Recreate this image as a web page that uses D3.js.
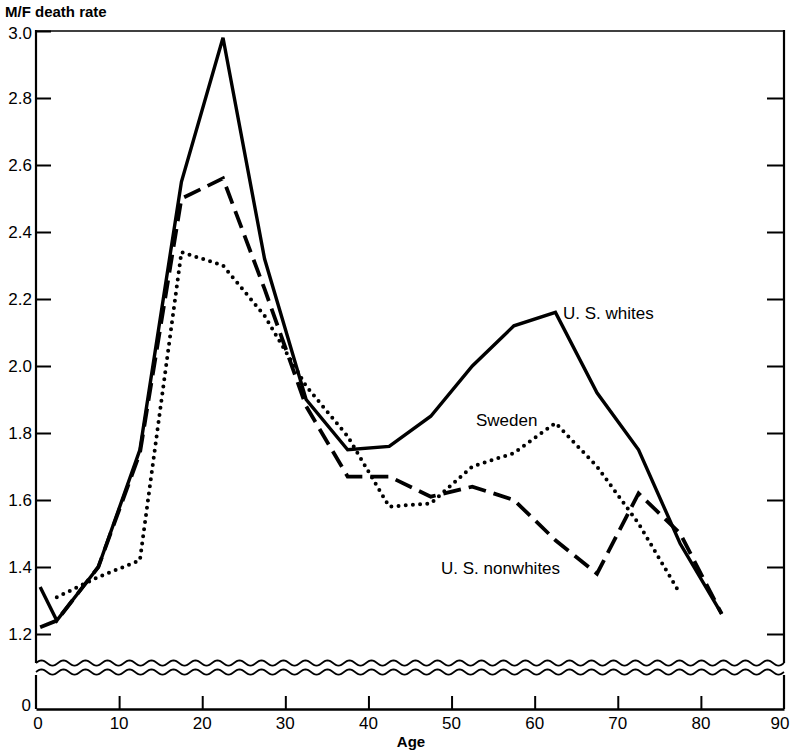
<!DOCTYPE html>
<html>
<head>
<meta charset="utf-8">
<script src="https://cdn.jsdelivr.net/npm/d3@7"></script>
<style>
  body { margin: 0; background: #fff; }
  text { font-family: "Liberation Sans", Arial, sans-serif; fill: #000; }
</style>
</head>
<body>
<div id="chart"></div>
<script>
// age group midpoints and M/F death-rate ratios
var ages = [0.5, 2.5, 7.5, 12.5, 17.5, 22.5, 27.5, 32.5, 37.5, 42.5, 47.5, 52.5, 57.5, 62.5, 67.5, 72.5, 77.5, 82.5];
var usWhites = [1.34, 1.24, 1.40, 1.75, 2.55, 2.98, 2.32, 1.90, 1.75, 1.76, 1.85, 2.00, 2.12, 2.16, 1.92, 1.75, 1.47, 1.26];
var usNonwhites = [1.22, 1.24, 1.40, 1.74, 2.50, 2.56, 2.23, 1.88, 1.67, 1.67, 1.61, 1.64, 1.60, 1.48, 1.38, 1.62, 1.50, 1.26];
var swedenAges = [2.5, 7.5, 12.5, 17.5, 22.5, 27.5, 32.5, 37.5, 42.5, 47.5, 52.5, 57.5, 62.5, 67.5, 72.5, 77.5];
var sweden = [1.31, 1.37, 1.42, 2.34, 2.30, 2.15, 1.94, 1.79, 1.58, 1.59, 1.70, 1.74, 1.83, 1.70, 1.53, 1.32];

var xTicks = [0, 10, 20, 30, 40, 50, 60, 70, 80, 90];
var yTicks = [1.2, 1.4, 1.6, 1.8, 2.0, 2.2, 2.4, 2.6, 2.8, 3.0];

var width = 798, height = 750;
var svg = d3.select("#chart").append("svg")
    .attr("width", width)
    .attr("height", height);

var x = d3.scaleLinear().domain([0, 90]).range([36, 784]);
var y = d3.scaleLinear().domain([1.2, 3.0]).range([634, 31]);
// the broken-off bottom part only shows zero
var yLow = d3.scaleLinear().domain([0, 0.1]).range([709, 676]);

var waveTop = 663, waveBottom = 672;

// frame of the upper part
svg.append("line").attr("x1", x(0)).attr("x2", x(90)).attr("y1", y(3.0)).attr("y2", y(3.0))
    .attr("stroke", "#000").attr("stroke-width", 1.6);
svg.append("line").attr("x1", x(0)).attr("x2", x(0)).attr("y1", y(3.0) - 1).attr("y2", waveTop)
    .attr("stroke", "#000").attr("stroke-width", 2.2);
svg.append("line").attr("x1", x(90)).attr("x2", x(90)).attr("y1", y(3.0) - 1).attr("y2", waveTop)
    .attr("stroke", "#000").attr("stroke-width", 2.2);

// lower part
svg.append("line").attr("x1", x(0)).attr("x2", x(0)).attr("y1", waveBottom + 3).attr("y2", yLow(0))
    .attr("stroke", "#000").attr("stroke-width", 2.2);
svg.append("line").attr("x1", x(90)).attr("x2", x(90)).attr("y1", waveBottom + 3).attr("y2", yLow(0))
    .attr("stroke", "#000").attr("stroke-width", 2.2);

// wavy break lines
var nWaves = 34;
function wavePath(cy) {
    var pts = d3.range(0, nWaves * 16 + 1).map(function(i) {
        var t = i / (nWaves * 16);
        var px = x(0) + t * (x(90) - x(0));
        return [px, cy - 2.6 * Math.sin(t * nWaves * 2 * Math.PI)];
    });
    return d3.line()(pts);
}
svg.append("path").attr("d", wavePath(waveTop)).attr("fill", "none").attr("stroke", "#000").attr("stroke-width", 1.8);
svg.append("path").attr("d", wavePath(waveBottom)).attr("fill", "none").attr("stroke", "#000").attr("stroke-width", 1.8);

// left y axis ticks (inside) and labels
var left = svg.append("g").attr("transform", "translate(" + x(0) + ",0)")
    .call(d3.axisRight(y).tickValues(yTicks).tickSize(15).tickFormat(""));
left.select(".domain").remove();
left.selectAll(".tick line").attr("stroke", "#000").attr("stroke-width", 2);

svg.selectAll(".ylab")
    .data(yTicks)
    .enter()
    .append("text")
    .attr("class", "ylab")
    .attr("x", x(0) - 4)
    .attr("y", function(d) { return y(d) + (d === 3.0 ? 2 : 0); })
    .attr("text-anchor", "end")
    .attr("dominant-baseline", "central")
    .style("font-size", "17px")
    .text(function(d) { return d.toFixed(1); });

svg.append("text")
    .attr("x", x(0) - 5)
    .attr("y", yLow(0) - 4)
    .attr("text-anchor", "end")
    .attr("dominant-baseline", "central")
    .style("font-size", "17px")
    .text("0");

// right side ticks
var right = svg.append("g").attr("transform", "translate(" + x(90) + ",0)")
    .call(d3.axisLeft(y).tickValues(yTicks.slice(0, 9)).tickSize(17).tickFormat(""));
right.select(".domain").remove();
right.selectAll(".tick line").attr("stroke", "#000").attr("stroke-width", 2);

// bottom axis
var bottom = svg.append("g").attr("transform", "translate(0," + yLow(0) + ")")
    .call(d3.axisTop(x).tickValues(xTicks.slice(1, 9)).tickSize(13).tickFormat("").tickSizeOuter(0));
bottom.select(".domain").attr("stroke", "#000").attr("stroke-width", 2.4);
bottom.selectAll(".tick line").attr("stroke", "#000").attr("stroke-width", 2);

svg.selectAll(".xlab")
    .data(xTicks)
    .enter()
    .append("text")
    .attr("class", "xlab")
    .attr("x", function(d) { return x(d) - (d === 90 ? 4 : 0) + (d === 0 ? 2 : 0); })
    .attr("y", 723)
    .attr("text-anchor", "middle")
    .attr("dominant-baseline", "central")
    .style("font-size", "17px")
    .text(function(d) { return d; });

svg.append("text")
    .attr("x", 411)
    .attr("y", 741)
    .attr("text-anchor", "middle")
    .attr("dominant-baseline", "central")
    .style("font-size", "15px")
    .style("font-weight", "bold")
    .text("Age");

svg.append("text")
    .attr("x", 5)
    .attr("y", 11)
    .attr("dominant-baseline", "central")
    .style("font-size", "15px")
    .style("font-weight", "bold")
    .text("M/F death rate");

// series
var line = d3.line()
    .x(function(d) { return x(d[0]); })
    .y(function(d) { return y(d[1]); });

svg.append("path")
    .attr("d", line(d3.zip(swedenAges, sweden)))
    .attr("fill", "none")
    .attr("stroke", "#000")
    .attr("stroke-width", 4)
    .attr("stroke-linecap", "round")
    .attr("stroke-dasharray", "0,7.2");

svg.append("path")
    .attr("d", line(d3.zip(ages, usNonwhites)))
    .attr("fill", "none")
    .attr("stroke", "#000")
    .attr("stroke-width", 3.8)
    .attr("stroke-dasharray", "18,8");

svg.append("path")
    .attr("d", line(d3.zip(ages, usWhites)))
    .attr("fill", "none")
    .attr("stroke", "#000")
    .attr("stroke-width", 3.4)
    .attr("stroke-linejoin", "miter");

// series labels
var labels = [
    { text: "U. S. whites", x: 563, y: 313 },
    { text: "Sweden", x: 476, y: 420 },
    { text: "U. S. nonwhites", x: 441, y: 568 }
];
svg.selectAll(".slab")
    .data(labels)
    .enter()
    .append("text")
    .attr("class", "slab")
    .attr("x", function(d) { return d.x; })
    .attr("y", function(d) { return d.y; })
    .attr("dominant-baseline", "central")
    .style("font-size", "17px")
    .text(function(d) { return d.text; });
</script>
</body>
</html>
